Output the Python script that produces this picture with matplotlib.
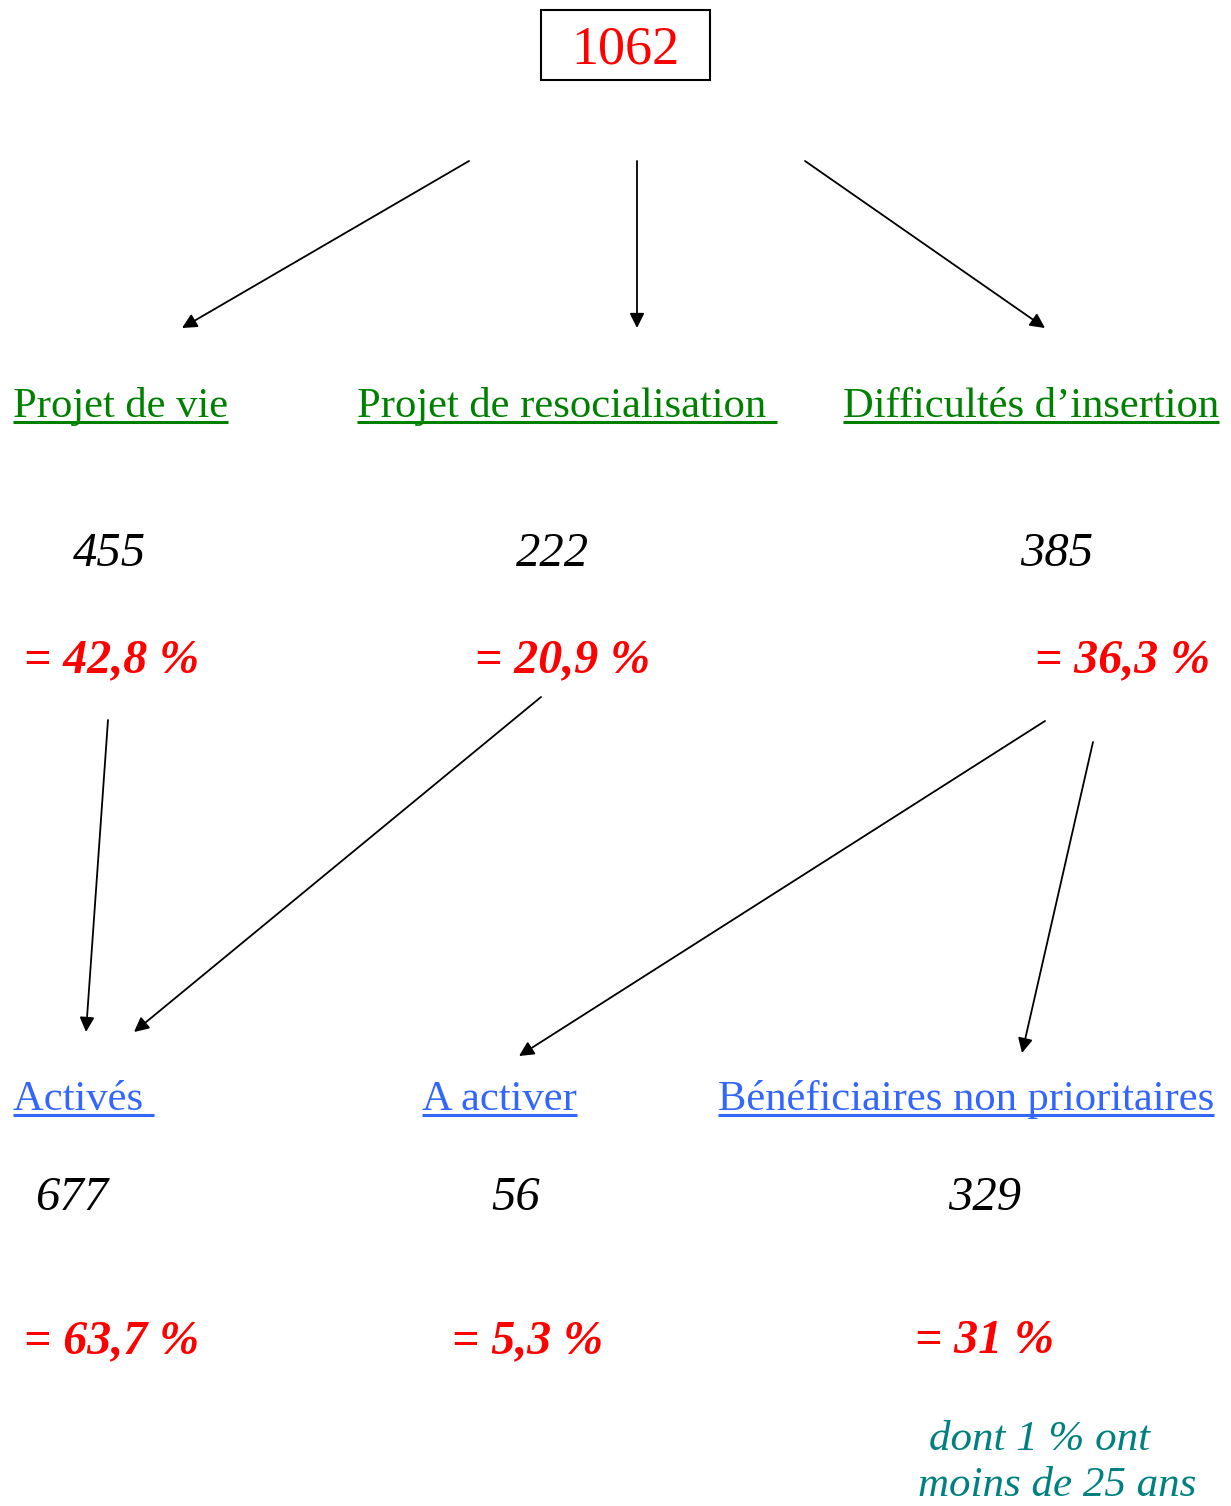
import matplotlib.pyplot as plt
from matplotlib.patches import Rectangle

plt.rcParams['font.family'] = ['Liberation Serif', 'DejaVu Serif']

# data
total = "1062"
groupes = ["Projet de vie", "Projet de resocialisation ", "Difficultés d\u2019insertion"]
effectifs = ["455", "222", "385"]
parts = ["= 42,8 %", "= 20,9 %", "= 36,3 %"]
statuts = ["Activés ", "A activer", "Bénéficiaires non prioritaires"]
effectifs_statut = ["677", "56", "329"]
parts_statut = ["= 63,7 %", "= 5,3 %", "= 31 %"]
note = ["dont 1 % ont", "moins de 25 ans"]

GREEN = "#008000"
BLUE = "#3366FF"
RED = "#FF0000"
TEAL = "#008080"

fig = plt.figure(figsize=(12.31, 15.06), dpi=100)
ax = fig.add_axes([0, 0, 1, 1])
ax.set_xlim(0, 1231)
ax.set_ylim(1506, 0)
ax.axis('off')

# top box
ax.add_patch(Rectangle((541, 10), 169, 70, fill=False, ec='black', lw=1.5))
ax.text(625, 50, total, color=RED, fontsize=39, ha='center', va='center')

def arrow(x0, y0, x1, y1):
    ax.annotate('', xy=(x1, y1), xytext=(x0, y0),
                arrowprops=dict(arrowstyle='-|>', color='black', lw=1.3,
                                mutation_scale=22, shrinkA=0, shrinkB=0))

arrow(469, 161, 182, 328)
arrow(637, 161, 637, 328)
arrow(805, 161, 1045, 328)

underlined = []
lab_x = [13, 357, 843]
for x, lab in zip(lab_x, groupes):
    t = ax.text(x, 417, lab, color=GREEN, fontsize=30.7, ha='left', va='baseline')
    underlined.append((t, GREEN))

num_x = [109, 553, 1057]
for x, n in zip(num_x, effectifs):
    ax.text(x, 554, n, fontsize=35, style='italic', ha='center', va='center')

pct_x = [112, 563, 1123]
for x, p in zip(pct_x, parts):
    ax.text(x, 660, p, fontsize=34.5, style='italic', weight='bold', color=RED,
            ha='center', va='center')

arrow(108, 720, 86, 1032)
arrow(541, 697, 134, 1032)
arrow(1045, 721, 519, 1056)
arrow(1093, 742, 1022, 1053)

stat_x = [13, 422, 718]
for x, lab in zip(stat_x, statuts):
    t = ax.text(x, 1110, lab, color=BLUE, fontsize=30.7, ha='left', va='baseline')
    underlined.append((t, BLUE))

num2_x = [72, 516, 985]
for x, n in zip(num2_x, effectifs_statut):
    ax.text(x, 1198, n, fontsize=35, style='italic', ha='center', va='center')

pct2_x = [112, 528, 985]
for x, p in zip(pct2_x, parts_statut):
    ax.text(x, 1341, p, fontsize=34.5, style='italic', weight='bold', color=RED,
            ha='center', va='center')

ax.text(1040, 1440, note[0], fontsize=31, style='italic', color=TEAL,
        ha='center', va='center')
ax.text(1057, 1486, note[1], fontsize=31, style='italic', color=TEAL,
        ha='center', va='center')

# underlines
fig.canvas.draw()
r = fig.canvas.get_renderer()
inv = ax.transData.inverted()
for t, c in underlined:
    bb = t.get_window_extent(renderer=r)
    (xa, _), (xb, _) = inv.transform([(bb.x0, bb.y0), (bb.x1, bb.y0)])
    y = t.get_position()[1] + 5
    ax.plot([xa, xb], [y, y], color=c, lw=2.2, solid_capstyle='butt')

fig.savefig('out.png', dpi=100)
